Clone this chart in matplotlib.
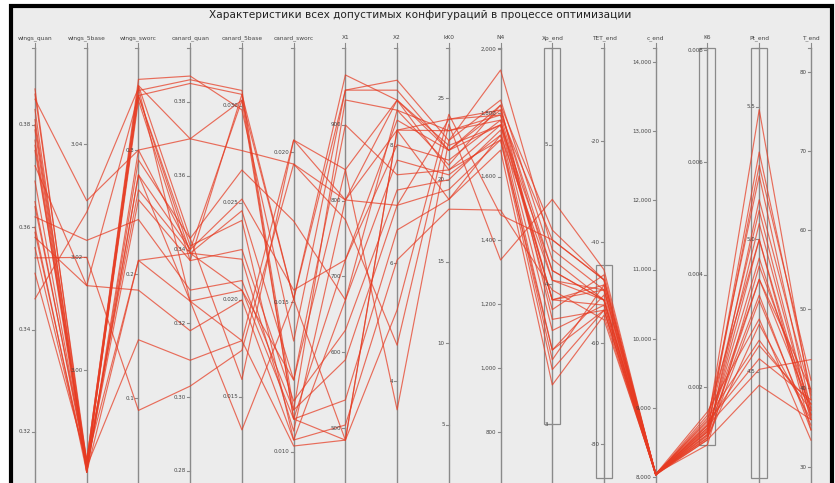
import matplotlib
matplotlib.use('Agg')
import matplotlib.pyplot as plt
from matplotlib.patches import Rectangle

title = 'Характеристики всех допустимых конфигураций в процессе оптимизации'

names = ['wings_quan', 'wings_5base', 'wings_sworc', 'canard_quan', 'canard_5base', 'canard_sworc',
         'X1', 'X2', 'kK0', 'N4', 'Xp_end', 'TET_end', 'c_end', 'K6', 'Pt_end', 'T_end']

# axis scales (value at bottom, value at top)
lo = [0.311, 2.981, 0.0355, 0.2781, 0.01082, 0.009133, 434, 2.349, 1.758, 656, 2.613, -86.73, 7990, 0.00038, 4.10, 28.61]
hi = [0.395, 3.057, 0.3823, 0.3946, 0.03299, 0.02347, 1001.6, 9.668, 28.06, 2003, 5.695, -1.58, 14201, 0.008036, 5.7226, 83.04]

ticks = [[0.38, 0.36, 0.34, 0.32],
         [3.04, 3.02, 3.00],
         [0.3, 0.2, 0.1],
         [0.38, 0.36, 0.34, 0.32, 0.30, 0.28],
         [0.030, 0.025, 0.020, 0.015],
         [0.020, 0.015, 0.010],
         [900, 800, 700, 600, 500],
         [8, 6, 4],
         [25, 20, 15, 10, 5],
         [2000, 1800, 1600, 1400, 1200, 1000, 800],
         [5, 4, 3],
         [-20, -40, -60, -80],
         [14000, 13000, 12000, 11000, 10000, 9000, 8000],
         [0.008, 0.006, 0.004, 0.002],
         [5.5, 5.0, 4.5],
         [80, 70, 60, 50, 40, 30]]
fmts = ['{:.2f}', '{:.2f}', '{:.1f}', '{:.2f}', '{:.3f}', '{:.3f}', '{:.0f}', '{:.0f}',
        '{:.0f}', '{:,.0f}', '{:.0f}', '{:.0f}', '{:,.0f}', '{:.3f}', '{:.1f}', '{:.0f}']

# brushed ranges (filters) on some axes
brushes = {10: (3.0, 5.695), 11: (-86.73, -44.5), 13: (0.00097, 0.008036), 14: (4.10, 5.7226)}

# configurations, one list per axis
wings_quan = [0.387, 0.386, 0.385, 0.379, 0.377, 0.375, 0.365, 0.362, 0.360, 0.358, 0.356, 0.354, 0.351, 0.346, 0.380, 0.383, 0.372, 0.364, 0.359, 0.376, 0.369, 0.381]
wings_5base = [2.983, 2.984, 3.030, 2.982, 2.983, 2.984, 2.983, 3.023, 2.982, 3.015, 2.983, 3.020, 2.984, 3.028, 2.983, 2.982, 3.015, 2.984, 2.983, 2.982, 2.983, 2.984]
wings_sworc = [0.344, 0.357, 0.300, 0.292, 0.280, 0.268, 0.260, 0.244, 0.211, 0.187, 0.147, 0.090, 0.352, 0.350, 0.348, 0.300, 0.344, 0.211, 0.340, 0.280, 0.344, 0.352]
canard_quan = [0.385, 0.387, 0.370, 0.343, 0.340, 0.339, 0.337, 0.329, 0.326, 0.318, 0.310, 0.303, 0.343, 0.326, 0.386, 0.340, 0.341, 0.339, 0.337, 0.326, 0.339, 0.370]
canard_5base = [0.0306, 0.0298, 0.0277, 0.0267, 0.0252, 0.0246, 0.0226, 0.0210, 0.0205, 0.0200, 0.0179, 0.0174, 0.0159, 0.0133, 0.0308, 0.0303, 0.0241, 0.0221, 0.0306, 0.0179, 0.0205, 0.0303]
canard_sworc = [0.0151, 0.0137, 0.0196, 0.0177, 0.0154, 0.0124, 0.0117, 0.0114, 0.0111, 0.0104, 0.0102, 0.0196, 0.0204, 0.0151, 0.0114, 0.0111, 0.0104, 0.0107, 0.0111, 0.0204, 0.0124, 0.0151]
x1 = [966, 946, 801, 669, 722, 900, 629, 590, 537, 504, 484, 775, 841, 946, 933, 484, 669, 801, 722, 801, 841, 484]
x2 = [8.78, 9.12, 8.27, 8.61, 8.02, 7.51, 7.25, 6.99, 6.57, 6.06, 5.21, 4.61, 3.51, 8.95, 8.61, 8.27, 7.76, 8.78, 8.44, 6.99, 8.78, 8.27]
kk0 = [21.8, 22.4, 23.7, 23.0, 21.2, 20.6, 20.0, 19.4, 18.8, 18.2, 24.0, 23.4, 22.4, 21.8, 20.9, 23.0, 20.3, 22.1, 21.8, 23.7, 20.6, 18.8]
n4 = [1824, 1934, 1809, 1793, 1777, 1762, 1746, 1715, 1683, 1495, 1480, 1339, 1840, 1809, 1824, 1777, 1730, 1762, 1762, 1793, 1715, 1730]
xp_end = [4.39, 4.25, 4.10, 3.89, 3.82, 3.67, 3.53, 3.39, 3.28, 3.96, 4.32, 4.61, 4.18, 4.03, 3.75, 3.89, 3.46, 4.10, 3.89, 4.32, 3.53, 4.03]
tet_end = [-47.5, -49.5, -51.5, -48.5, -46.5, -52.5, -50.5, -53.5, -54.5, -55.4, -47.5, -45.5, -51.5, -49.5, -53.5, -52.5, -48.5, -51.5, -49.5, -47.5, -53.5, -51.5]
c_end = [8030, 8045, 8035, 8050, 8040, 8030, 8055, 8040, 8035, 8060, 8045, 8030, 8050, 8040, 8035, 8045, 8055, 8040, 8045, 8050, 8035, 8040]
k6 = [0.00132, 0.00124, 0.00141, 0.00106, 0.00115, 0.00150, 0.00097, 0.00127, 0.00120, 0.00109, 0.00156, 0.00145, 0.00138, 0.00131, 0.00106, 0.00116, 0.00127, 0.00113, 0.00120, 0.00134, 0.00110, 0.00122]
pt_end = [5.49, 5.28, 5.24, 5.15, 5.06, 5.00, 4.90, 4.85, 4.79, 4.77, 4.70, 4.62, 4.55, 4.51, 4.45, 5.00, 5.11, 4.85, 4.93, 4.60, 4.68, 5.33]
t_end = [38.5, 41.0, 37.2, 39.1, 36.6, 36.0, 37.9, 39.8, 34.7, 35.3, 33.4, 37.2, 38.5, 43.6, 36.0, 34.7, 36.6, 37.5, 36.3, 38.0, 36.0, 39.5]

columns = [wings_quan, wings_5base, wings_sworc, canard_quan, canard_5base, canard_sworc,
           x1, x2, kk0, n4, xp_end, tet_end, c_end, k6, pt_end, t_end]


def norm(i, v):
    return (v - lo[i]) / (hi[i] - lo[i])


fig = plt.figure(figsize=(8.35, 4.83), dpi=100, facecolor='white')

# frame
fig.patches.append(Rectangle((11 / 835, -0.05), 821 / 835, 1.05 - 6 / 483, transform=fig.transFigure,
                             facecolor='#ececec', edgecolor='black', linewidth=3, zorder=-5))
fig.text(0.503, 0.968, title, ha='center', va='center', fontsize=7.6, color='#222222')

ax = fig.add_axes([0, 0, 1, 1])
ax.patch.set_visible(False)
step = 51.73
ax.set_xlim(-35 / step, 800 / step)
ax.set_ylim(-5 / 430, 478 / 430)
ax.axis('off')

n = len(names)
dx = 1 / step

# lines
for k in range(len(wings_quan)):
    ys = [norm(i, columns[i][k]) for i in range(n)]
    ax.plot(range(n), ys, color='#e63b22', alpha=0.72, linewidth=0.85, zorder=3)

# axes
for i in range(n):
    ax.plot([i, i], [-0.02, 1.0], color='#8a8a8a', linewidth=1.0, zorder=2)
    ax.plot([i - 3 * dx, i], [1.0, 1.0], color='#8a8a8a', linewidth=0.8, zorder=2)
    ax.plot([i, i], [1.0, 1.012], color='#8a8a8a', linewidth=0.8, zorder=2)
    ax.text(i, 1.024, names[i], ha='center', va='center', fontsize=4.2, color='#444444')
    for t in ticks[i]:
        y = norm(i, t)
        if -0.01 <= y <= 1.01:
            ax.plot([i - 3 * dx, i], [y, y], color='#8a8a8a', linewidth=0.8, zorder=2)
            ax.text(i - 4 * dx, y, fmts[i].format(t), ha='right', va='center',
                    fontsize=4.0, color='#444444', zorder=4)
    if i in brushes:
        b0, b1 = brushes[i]
        y0, y1 = norm(i, b0), norm(i, b1)
        ax.add_patch(Rectangle((i - 8 * dx, y0), 16 * dx, y1 - y0, facecolor='none',
                               edgecolor='#8a8a8a', linewidth=0.9, zorder=2))

fig.savefig('out.png', dpi=100)
